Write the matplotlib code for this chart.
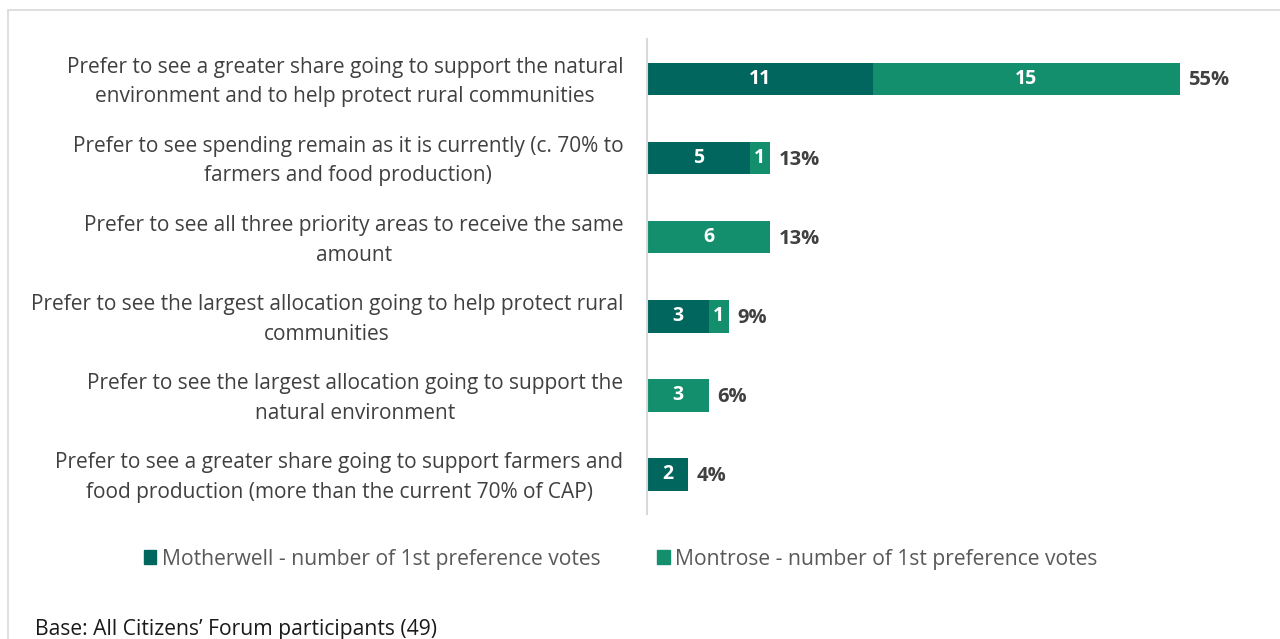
import matplotlib.pyplot as plt
from matplotlib.patches import Patch, Rectangle
from matplotlib.transforms import ScaledTranslation

# Data
categories = [
    "Prefer to see a greater share going to support the natural\nenvironment and to help protect rural communities",
    "Prefer to see spending remain as it is currently (c. 70% to\nfarmers and food production)",
    "Prefer to see all three priority areas to receive the same\namount",
    "Prefer to see the largest allocation going to help protect rural\ncommunities",
    "Prefer to see the largest allocation going to support the\nnatural environment",
    "Prefer to see a greater share going to support farmers and\nfood production (more than the current 70% of CAP)",
]
motherwell = [11, 5, 0, 3, 0, 2]
montrose = [15, 1, 6, 1, 3, 0]
pct_labels = ["55%", "13%", "13%", "9%", "6%", "4%"]
series_names = ["Motherwell - number of 1st preference votes",
                "Montrose - number of 1st preference votes"]

dark = "#00665E"
light = "#138F6D"
txt = "#404040"
font = "Open Sans"

plt.rcParams['font.family'] = [font, 'DejaVu Sans']

fig = plt.figure(figsize=(12.8, 6.39), dpi=100)
ax = fig.add_axes([647 / 1280, 1 - 514 / 639, 623 / 1280, 474.5 / 639])

y = list(range(len(categories)))
bh = 0.41
ax.barh(y, motherwell, height=bh, color=dark, edgecolor='none')
ax.barh(y, montrose, left=motherwell, height=bh, color=light, edgecolor='none')

# labels inside bars
for i in y:
    if motherwell[i] > 0:
        ax.text(motherwell[i] / 2, i, str(motherwell[i]), ha='center', va='center',
                color='white', fontsize=14, fontweight='bold')
    if montrose[i] > 0:
        ax.text(motherwell[i] + montrose[i] / 2, i, str(montrose[i]), ha='center',
                va='center', color='white', fontsize=14, fontweight='bold')
    total = motherwell[i] + montrose[i]
    ax.annotate(pct_labels[i], (total, i), xytext=(6, -1), textcoords='offset points',
                ha='left', va='center', color=txt, fontsize=14.5, fontweight='bold')

ax.set_xlim(0, 623 / 20.5)
ax.set_ylim(len(categories) - 0.5, -0.5)
ax.set_yticks(y)
ax.set_yticklabels(categories, fontsize=15, color=txt, multialignment='center',
                   linespacing=1.55)
ax.tick_params(axis='y', length=0, pad=17)
# nudge the category labels up a little
up = ScaledTranslation(0, 4 / 100, fig.dpi_scale_trans)
for lab in ax.get_yticklabels():
    lab.set_transform(lab.get_transform() + up)
ax.set_xticks([])
for s in ['top', 'right', 'bottom']:
    ax.spines[s].set_visible(False)
ax.spines['left'].set_color('#d9d9d9')
ax.spines['left'].set_linewidth(1.5)

handles = [Patch(color=dark), Patch(color=light)]
leg = fig.legend(handles, series_names, loc='center', bbox_to_anchor=(0.4848, 1 - 559 / 639),
                 ncol=2, frameon=False, fontsize=15.2, handlelength=0.6, handleheight=0.6,
                 handletextpad=0.25, columnspacing=2.7)
for t in leg.get_texts():
    t.set_color('#595959')

fig.text(35 / 1280, 1 - 630 / 639, "Base: All Citizens\u2019 Forum participants (49)",
         fontsize=15.2, color='#1a1a1a', va='center', ha='left')

# outer chart border
fig.patches.append(Rectangle((8 / 1280, -0.01), 1.02, 1 - 10 / 639 + 0.01,
                             transform=fig.transFigure, fill=False,
                             edgecolor='#d9d9d9', linewidth=1.2))

fig.savefig("out.png", dpi=100)
